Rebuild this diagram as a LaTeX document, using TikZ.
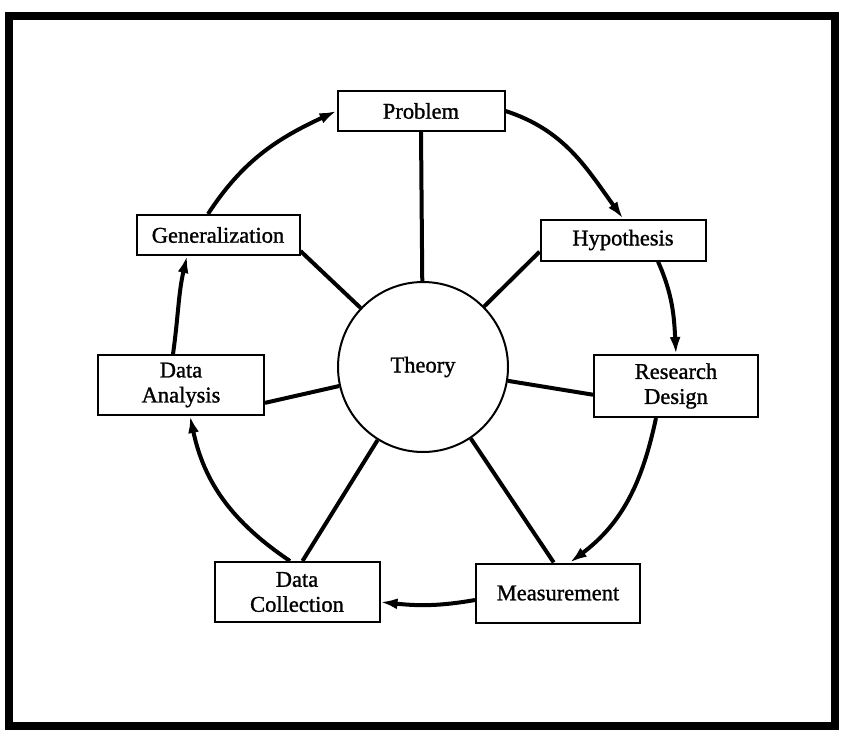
\documentclass[tikz,border=0pt]{standalone}
\usepackage{fontspec}
\setmainfont{Liberation Serif}
\newfontfamily\stagefont[FakeBold=1.2]{Liberation Serif}
\usetikzlibrary{arrows.meta}
\begin{document}
\begin{tikzpicture}[x=1pt,y=1pt,
  stagebox/.style={draw, line width=2pt, align=center, inner sep=0pt,
    font=\stagefont\fontsize{22.5}{25}\selectfont},
  core/.style={draw, circle, line width=2pt, minimum size=170pt, inner sep=0pt,
    font=\stagefont\fontsize{22.5}{25}\selectfont},
  cycle/.style={line width=4pt, -{Latex[length=17pt,width=11pt]}},
  spoke/.style={line width=4pt}]
\useasboundingbox (0,0) rectangle (842,-738);
% outer frame
\draw[line width=8pt] (9,-16) rectangle (835,-726);

% central circle
\node[core] (theory) at (423,-367) {Theory};

% stages of the research cycle
\node[stagebox, minimum width=167pt, minimum height=40pt] (prob) at (421,-111) {Problem};
\node[stagebox, minimum width=165pt, minimum height=41pt] (hyp) at (623,-240) {Hypothesis};
\node[stagebox, minimum width=164pt, minimum height=62pt] (rd) at (676,-386) {Research\\Design};
\node[stagebox, minimum width=164pt, minimum height=59pt] (meas) at (558,-593) {Measurement};
\node[stagebox, minimum width=165pt, minimum height=60pt] (dc) at (297,-592) {Data\\Collection};
\node[stagebox, minimum width=166pt, minimum height=60pt] (da) at (181,-385) {Data\\Analysis};
\node[stagebox, minimum width=163pt, minimum height=40pt] (gen) at (218,-235) {Generalization};

% spokes from the theory
\draw[spoke] (theory) -- (prob.south);
\draw[spoke] (theory) -- (hyp.188);
\draw[spoke] (theory) -- (rd.186);
\draw[spoke] (theory) -- (meas.98);
\draw[spoke] (theory) -- (dc.80);
\draw[spoke] (theory) -- (da.-12);
\draw[spoke] (theory) -- (gen.-11);

% the cycle, following a circle round the theory
\draw[cycle] (prob.east) to[out=-18, in=126] (hyp.north);
\draw[cycle] ([xshift=35pt]hyp.south) to[out=-66, in=93] (rd.north);
\draw[cycle] ([xshift=-20pt]rd.south) to[out=-102, in=37] ([xshift=12pt]meas.north);
\draw[cycle] ([yshift=-7pt]meas.west) to[out=190, in=-6] ([yshift=-10pt]dc.east);
\draw[cycle] ([xshift=-7pt]dc.north) to[out=146, in=-78] ([xshift=9pt]da.south);
\draw[cycle] ([xshift=-8pt]da.north) to[out=82, in=-103] ([xshift=-31pt]gen.south);
\draw[cycle] ([xshift=-10pt]gen.north) to[out=57, in=205] (prob.west);
\end{tikzpicture}
\end{document}
